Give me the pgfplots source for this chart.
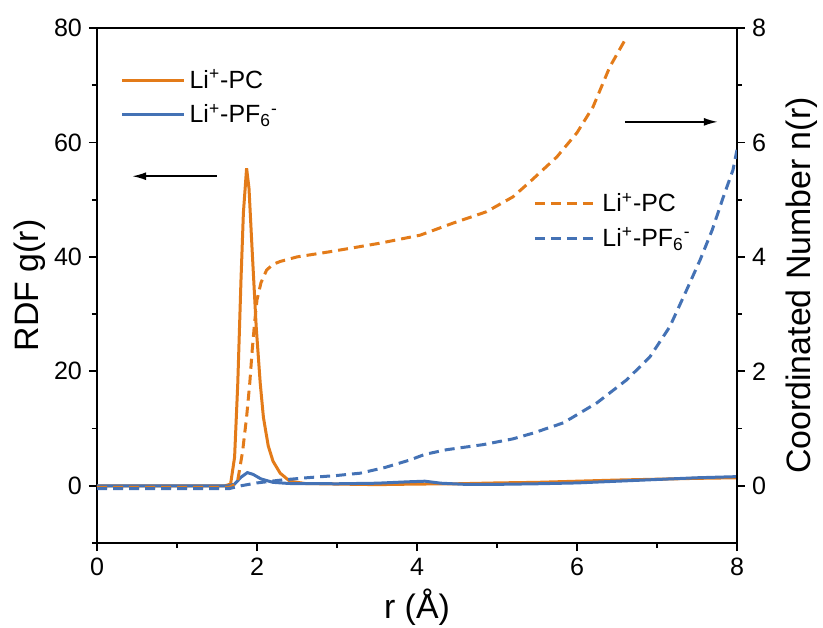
\documentclass[border=0pt]{standalone}
\usepackage{pgfplots}
\pgfplotsset{compat=1.18}
\usepackage{fontspec}
\setmainfont{Liberation Sans}
\usetikzlibrary{arrows.meta}
\definecolor{cor}{RGB}{227,123,25}
\definecolor{cbl}{RGB}{68,114,181}
\newcommand{\LiPC}{Li\textsuperscript{+}-PC}
\newcommand{\LiPF}{Li\textsuperscript{+}-PF\textsubscript{6}\textsuperscript{-}}
\pgfplotsset{
  leg/.style={legend image code/.code={\draw[##1] plot coordinates {(0bp,0bp) (31bp,0bp)};}},
  common/.style={
    scale only axis, width=320bp, height=257.5bp,
    xmin=0, xmax=8,
    tick align=outside,
    major tick length=4bp, minor tick length=2.5bp,
    every tick/.style={black, line width=0.9bp},
    axis line style={line width=1bp},
    tick label style={font=\fontsize{12.6}{15}\selectfont},
    label style={font=\fontsize{17}{20}\selectfont},
    /pgf/number format/assume math mode=true,
    legend cell align=left,
    legend style={draw=none, fill=none, font=\fontsize{12.5}{15}\selectfont, row sep=2.5bp, nodes={inner xsep=2bp}},
  }
}
\begin{document}
\begin{tikzpicture}
\useasboundingbox (-48.5bp,-42.5bp) rectangle (363bp,271.5bp);
\begin{axis}[common,
  ymin=-10, ymax=80,
  xtick={0,2,4,6,8}, ytick={0,20,40,60,80},
  minor xtick={1,3,5,7}, minor ytick={-10,10,30,50,70},
  xtick pos=bottom, ytick pos=left,
  xlabel={r (Å)}, ylabel={RDF g(r)},
  xlabel style={at={(axis description cs:0.5,-0.124)}, anchor=center},
  ylabel style={at={(axis description cs:-0.1047,0.5)}, anchor=center},
  legend style={at={(0.027,0.936)}, anchor=north west},
]
\addplot[cor, line width=1.5bp, leg] coordinates {
(0,0) (1.60,0) (1.67,0.3) (1.72,5) (1.76,18) (1.80,36) (1.83,47.7) (1.87,55.5) (1.90,52) (1.94,41) (1.99,27.8) (2.04,18) (2.08,12) (2.14,7) (2.20,4.3) (2.29,2.2) (2.41,0.8) (2.6,0.4) (3.0,0.3) (3.5,0.2) (4.0,0.3) (4.5,0.35) (5.0,0.5) (5.5,0.6) (6.0,0.8) (6.5,1.0) (7.0,1.15) (7.5,1.3) (8.0,1.4)
};
\addlegendentry{\LiPC}
\addplot[cbl, line width=1.5bp, leg] coordinates {
(0,0) (1.65,0) (1.72,0.3) (1.80,1.5) (1.88,2.3) (1.95,2.0) (2.05,1.2) (2.2,0.6) (2.4,0.4) (3.0,0.35) (3.5,0.45) (3.9,0.7) (4.1,0.8) (4.3,0.45) (4.6,0.25) (5.0,0.25) (5.5,0.35) (6.0,0.5) (6.5,0.8) (7.0,1.1) (7.5,1.4) (8.0,1.6)
};
\addlegendentry{\LiPF}
\draw[-{Latex[length=7bp,width=4bp]}, line width=0.8bp] (axis cs:1.5,54.1) -- (axis cs:0.44,54.1);
\draw[-{Latex[length=7bp,width=4bp]}, line width=0.8bp] (axis cs:6.6,63.6) -- (axis cs:7.76,63.6);
\end{axis}
\begin{axis}[common,
  ymin=-1, ymax=8,
  axis x line=none,
  axis y line*=right,
  ytick={0,2,4,6,8}, minor ytick={1,3,5,7},
  ylabel={Coordinated Number n(r)},
  ylabel style={at={(axis description cs:1.101,0.5)}, anchor=center},
  legend style={at={(0.672,0.696)}, anchor=north west},
]
\addplot[cor, line width=1.5bp, dash pattern=on 5bp off 3bp, leg] coordinates {
(0,-0.03) (1.65,-0.03) (1.72,0.02) (1.76,0.1) (1.82,0.6) (1.87,1.2) (1.91,1.8) (1.94,2.37) (1.97,2.85) (2.0,3.25) (2.05,3.55) (2.12,3.77) (2.2,3.87) (2.29,3.92) (2.5,4.0) (2.91,4.09) (3.54,4.24) (4.04,4.38) (4.45,4.59) (4.87,4.79) (5.2,5.05) (5.41,5.31) (5.75,5.75) (6.0,6.17) (6.2,6.62) (6.41,7.32) (6.62,7.84)
};
\addlegendentry{\LiPC}
\addplot[cbl, line width=1.5bp, dash pattern=on 5bp off 3bp, leg] coordinates {
(0,-0.05) (1.65,-0.05) (1.8,0) (2.0,0.05) (2.3,0.1) (2.62,0.14) (3.0,0.18) (3.29,0.22) (3.6,0.32) (3.91,0.45) (4.1,0.55) (4.37,0.63) (4.83,0.72) (5.2,0.82) (5.45,0.92) (5.83,1.10) (6.25,1.45) (6.62,1.85) (6.91,2.25) (7.16,2.78) (7.37,3.42) (7.54,3.95) (7.69,4.47) (7.83,5.05) (7.95,5.52) (8.0,5.87)
};
\addlegendentry{\LiPF}
\end{axis}
\end{tikzpicture}
\end{document}
